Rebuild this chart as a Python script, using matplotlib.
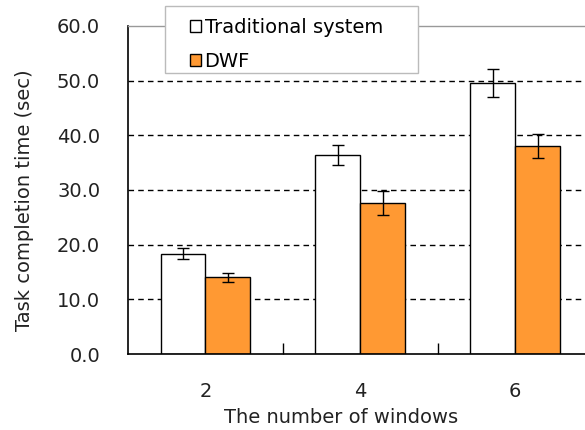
import matplotlib
matplotlib.use("Agg")
import matplotlib.pyplot as plt
import numpy as np
from matplotlib.patches import Patch, Rectangle

categories = ["2", "4", "6"]
traditional = [18.3, 36.4, 49.6]
traditional_err = [1.0, 1.8, 2.6]
dwf = [14.0, 27.6, 38.1]
dwf_err = [0.9, 2.2, 2.2]
yticks = [0, 10, 20, 30, 40, 50, 60]

plt.rcParams['font.family'] = ['DejaVu Sans']
FS = 14
W, H = 585, 430

fig = plt.figure(figsize=(5.85, 4.30), dpi=100)
ax = fig.add_axes([128/W, 76/H, 1 - 128/W, (354-26)/H])

x = np.arange(len(categories))
w = 0.29
ax.set_axisbelow(True)
for y in yticks[1:-1]:
    ax.axhline(y, color='black', lw=1.0, ls=(0, (4, 3)), zorder=0)

ax.bar(x - w/2, traditional, w, color='white', edgecolor='black', lw=1.0, zorder=2)
ax.bar(x + w/2, dwf, w, color='#FF9933', edgecolor='black', lw=1.0, zorder=2)
ax.errorbar(x - w/2, traditional, yerr=traditional_err, fmt='none', ecolor='black',
            elinewidth=1.0, capsize=4.3, capthick=1.0, zorder=3)
ax.errorbar(x + w/2, dwf, yerr=dwf_err, fmt='none', ecolor='black',
            elinewidth=1.0, capsize=4.3, capthick=1.0, zorder=3)

ax.set_xlim(-0.5, 2.45)
ax.set_ylim(0, 60)
ax.set_yticks(yticks)
ax.set_yticklabels([f"{v:.1f}" for v in yticks], fontsize=FS, color='#222222')
ax.set_xticks(x)
ax.set_xticklabels(categories, fontsize=FS, color='#222222')
ax.set_xticks([0.5, 1.5], minor=True)
ax.tick_params(axis='x', which='major', length=0, pad=20)
ax.tick_params(axis='x', which='minor', direction='in', length=8, width=1.0)
ax.tick_params(axis='y', which='major', length=0, pad=20)

for s in ['left', 'bottom']:
    ax.spines[s].set_color('black')
    ax.spines[s].set_linewidth(1.2)
ax.spines['top'].set_color('#999999')
ax.spines['top'].set_linewidth(1.0)
ax.spines['right'].set_visible(False)

ax.set_xlabel("The number of windows", fontsize=FS, color='#222222')
ax.xaxis.set_label_coords((341 - 128) / 457, (354 - 408) / 328)
ax.set_ylabel("Task completion time (sec)", fontsize=FS, color='#222222')
ax.yaxis.set_label_coords((34 - 128) / 457, (354 - 200) / 328)

# legend frame (Excel-style box overlapping the plot-area border)
frame = Rectangle((165/W, 1 - 73/H), (418-165)/W, (73-6)/H, transform=fig.transFigure,
                  facecolor='white', edgecolor='#bbbbbb', lw=1.0, zorder=5)
fig.add_artist(frame)

handles = [Patch(facecolor='white', edgecolor='black', lw=1.0),
           Patch(facecolor='#FF9933', edgecolor='black', lw=1.0)]
leg = fig.legend(handles, ["Traditional system", "DWF"], loc='upper left',
                 bbox_to_anchor=(190/W, 1 - 18/H),
                 fontsize=FS, frameon=False, handlelength=0.55, handleheight=0.55,
                 handletextpad=0.2, borderpad=0.0, labelspacing=0.75,
                 borderaxespad=0)
leg.set_zorder(10)

fig.savefig("out.png", dpi=100)
